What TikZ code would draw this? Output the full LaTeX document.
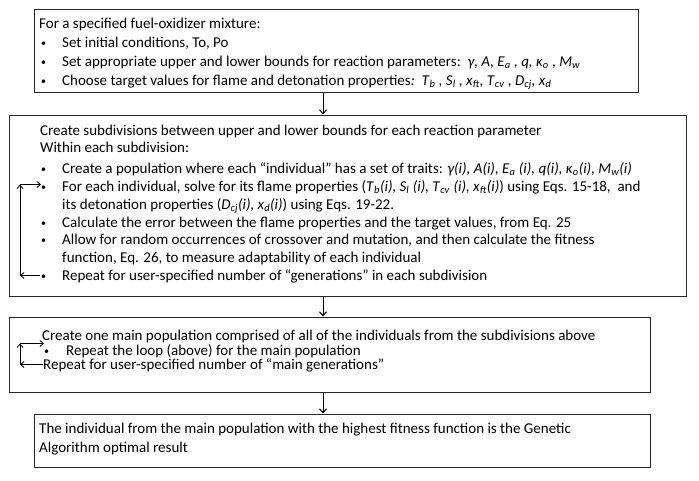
\documentclass[tikz,border=0pt]{standalone}
\usepackage{fontspec}
\setmainfont{Carlito}
\usetikzlibrary{arrows.meta}
\newcommand\sbi[1]{\textsubscript{\textit{#1}}}
\tikzset{
  box/.style={draw=black!85, line width=1pt, rectangle, inner sep=0pt},
  txt/.style={anchor=base west, inner sep=0pt, font=\fontsize{15}{18}\selectfont},
  bul/.style={anchor=base west, inner sep=0pt, font=\fontsize{10}{12}\selectfont},
  arr/.style={-{Straight Barb[length=4pt,width=7pt,line width=1pt]}, line width=1pt, black},
  looparr/.style={-{Straight Barb[length=3.5pt,width=6pt,line width=0.8pt]}, line width=0.8pt, black}
}
\begin{document}
\begin{tikzpicture}[x=1pt,y=-1pt]
\useasboundingbox (0,0) rectangle (699,480);
% boxes
\node[box, minimum width=604pt, minimum height=83pt] (b1) at (336,50.5) {};
\node[box, minimum width=677pt, minimum height=181pt] (b2) at (347.5,205.5) {};
\node[box, minimum width=641pt, minimum height=75pt] (b3) at (329.5,354.5) {};
\node[box, minimum width=616pt, minimum height=53pt] (b4) at (342,440.5) {};
\coordinate (ax) at (323,0);
\draw[arr] (b1.south -| ax) -- (b2.north -| ax);
\draw[arr] (b2.south -| ax) -- (b3.north -| ax);
\draw[arr] (b3.south -| ax) -- (b4.north -| ax);
% box 1 text
\node[txt] (t11) at (39,28) {For a specified fuel-oxidizer mixture:};
\node[bul] (p12) at (41,46) {•};
\node[txt] (t12) at (62,47) {Set initial conditions, To, Po};
\node[bul] (p13) at (41,65) {•};
\node[txt] (t13) at (62,66) {Set appropriate upper and lower bounds for reaction parameters:\ \ \textit{γ, A, E}\sbi{a}\textit{ , q, κ}\sbi{o}\textit{ , M}\sbi{w}};
\node[bul] (p14) at (41,84) {•};
\node[txt] (t14) at (62,85) {Choose target values for flame and detonation properties\textit{:\ \ T}\sbi{b}\textit{ , S}\sbi{l}\textit{ , x}\sbi{ft}\textit{, T}\sbi{cv}\textit{ , D}\sbi{cj}\textit{, x}\sbi{d}};
% box 2 text
\node[txt] (t21) at (40,135) {Create subdivisions between upper and lower bounds for each reaction parameter};
\node[txt] (t22) at (40,152) {Within each subdivision:};
\node[bul] (p23) at (41,172) {•};
\node[txt] (t23) at (62,173) {Create a population where each “individual” has a set of traits: \textit{γ(i), A(i), E}\sbi{a}\textit{ (i), q(i), κ}\sbi{o}\textit{(i), M}\sbi{w}\textit{(i)}};
\node[bul] (p24) at (41,190.5) {•};
\node[txt] (t24) at (62,191.5) {For each individual, solve for its flame properties (\textit{T}\sbi{b}\textit{(i), S}\sbi{l}\textit{ (i), T}\sbi{cv}\textit{ (i), x}\sbi{ft}\textit{(i)}) using Eqs. 15-18,\ \ and};
\node[txt] (t25) at (62,209) {its detonation properties (\textit{D}\sbi{cj}\textit{(i), x}\sbi{d}\textit{(i)}) using Eqs. 19-22.};
\node[bul] (p26) at (41,226) {•};
\node[txt] (t26) at (62,227) {Calculate the error between the flame properties and the target values, from Eq. 25};
\node[bul] (p27) at (41,243.5) {•};
\node[txt] (t27) at (62,244.5) {Allow for random occurrences of crossover and mutation, and then calculate the fitness};
\node[txt] (t28) at (62,262) {function, Eq. 26, to measure adaptability of each individual};
\node[bul] (p29) at (41,279) {•};
\node[txt] (t29) at (62,280) {Repeat for user-specified number of “generations” in each subdivision};
% box 2 loop
\coordinate (l2b) at (20,275.5);
\coordinate (l2t) at (20,184.5);
\draw[looparr] (p29.west |- l2b) ++(-1,0) -- (l2b);
\draw[looparr] (l2b) -- (l2t);
\draw[looparr] (l2t) -- (p24.west |- l2t);
% box 3 text
\node[txt] (t31) at (42,340) {Create one main population comprised of all of the individuals from the subdivisions above};
\node[bul] (p32) at (44,354) {•};
\node[txt] (t32) at (66,355) {Repeat the loop (above) for the main population};
\node[txt] (t33) at (43,369) {Repeat for user-specified number of “main generations”};
% box 3 loop
\coordinate (l3b) at (20,364.5);
\coordinate (l3t) at (20,343.5);
\draw[looparr] (t33.west |- l3b) -- (l3b);
\draw[looparr] (l3b) -- (l3t);
\draw[looparr] (l3t) -- (p32.west |- l3t);
% box 4 text
\node[txt] (t41) at (39,433) {The individual from the main population with the highest fitness function is the Genetic};
\node[txt] (t42) at (39,452) {Algorithm optimal result};
\end{tikzpicture}
\end{document}
